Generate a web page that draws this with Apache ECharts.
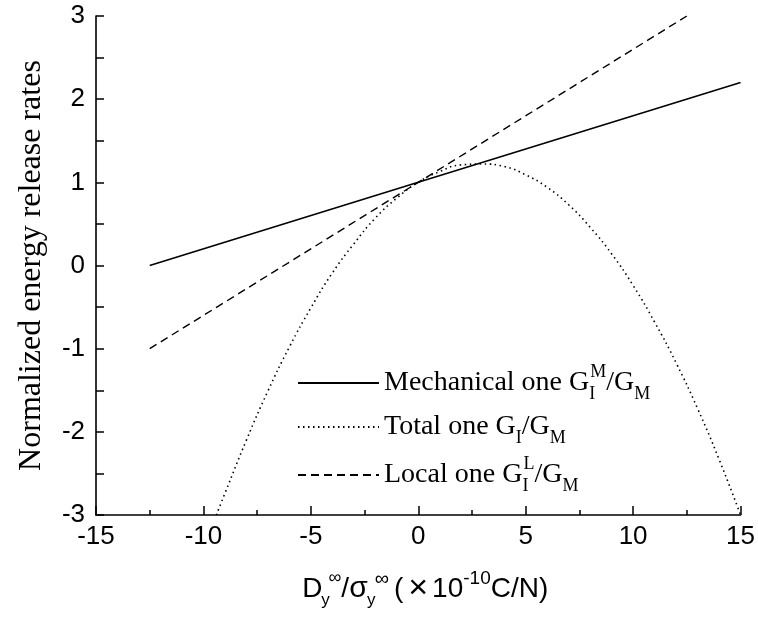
<!DOCTYPE html>
<html>
<head>
<meta charset="utf-8">
<script src="https://cdn.jsdelivr.net/npm/echarts@6/dist/echarts.min.js"></script>
<style>
html,body{margin:0;padding:0;background:#fff;}
#chart{width:758px;height:618px;}
</style>
</head>
<body>
<div id="chart"></div>
<script>
// ---- data ----
var xTicks = [-15, -10, -5, 0, 5, 10, 15];
var yTicks = [-3, -2, -1, 0, 1, 2, 3];

var mechX = [-12.5, 0, 15];
var mechY = [0, 1, 2.2];

var localX = [-12.5, 0, 12.5];
var localY = [-1, 1, 3];

var totalX = [-9.4, -9, -8, -7, -6, -5, -4, -3, -2, -1, 0, 1, 2, 3, 4, 5, 6, 7, 8, 9, 10, 11, 12, 13, 14, 15];
var totalY = [-3.0, -2.74, -2.10, -1.51, -0.98, -0.51, -0.09, 0.26, 0.57, 0.81, 1.0, 1.13, 1.21, 1.22, 1.19, 1.09, 0.94, 0.73, 0.46, 0.14, -0.24, -0.68, -1.17, -1.72, -2.33, -3.0];

var seriesNames = ['Mechanical one', 'Total one', 'Local one'];

function pairs(xs, ys) { return xs.map(function (x, i) { return [x, ys[i]]; }); }

var serif = "'Liberation Serif', 'Times New Roman', serif";
var sans = "'Liberation Sans', Arial, sans-serif";

var legendRich = {
  m: { fontFamily: serif, fontSize: 28, lineHeight: 40, color: '#000' },
  sp: { fontFamily: serif, fontSize: 18, lineHeight: 28, verticalAlign: 'top', color: '#000' },
  sbs: { fontFamily: serif, fontSize: 18, lineHeight: 22, verticalAlign: 'bottom', width: 1, color: '#000' },
  sb: { fontFamily: serif, fontSize: 18, lineHeight: 22, verticalAlign: 'bottom', color: '#000' },
  sb2: { fontFamily: serif, fontSize: 18, lineHeight: 18, verticalAlign: 'bottom', color: '#000' }
};
var legendText = {
  'Mechanical one': '{m|Mechanical one G}{sbs|I}{sp|M}{m|/G}{sb2|M}',
  'Total one': '{m|Total one G}{sb|I}{m|/G}{sb2|M}',
  'Local one': '{m|Local one G}{sbs|I}{sp|L}{m|/G}{sb2|M}'
};
var legendTops = [363, 413, 455];

var chart = echarts.init(document.getElementById('chart'), null, { renderer: 'canvas' });

var option = {
  backgroundColor: '#fff',
  animation: false,
  grid: { left: 96, right: 15, top: 16, bottom: 103, containLabel: false },
  legend: seriesNames.map(function (n, i) {
    return {
      data: [n],
      orient: 'vertical',
      left: 297,
      top: legendTops[i],
      itemWidth: 81,
      itemHeight: 2,
      padding: 0,
      selectedMode: false,
      itemStyle: { opacity: 0 },
      formatter: function (name) { return legendText[name]; },
      textStyle: { rich: legendRich, color: '#000' }
    };
  }),
  xAxis: {
    type: 'value',
    min: -15, max: 15, interval: 5,
    name: '{a|D}{ys|y}{inf|∞}{a|/}{sg|σ}{ys2|y}{inf2|∞}{a|(}{x|×}{a|10}{c|-10}{a|C/N)}',
    nameLocation: 'middle',
    nameGap: 54,
    nameTextStyle: {
      padding: [0, 0, 0, 14],
      rich: {
        a: { fontFamily: sans, fontSize: 28, lineHeight: 40, color: '#000' },
        sg: { fontFamily: sans, fontSize: 30, lineHeight: 40, color: '#000' },
        x: { fontFamily: sans, fontSize: 34, lineHeight: 40, padding: [0, 4, 0, 5], color: '#000' },
        c: { fontFamily: sans, fontSize: 19, lineHeight: 22, verticalAlign: 'top', color: '#000' },
        inf: { fontFamily: sans, fontSize: 18, lineHeight: 22, verticalAlign: 'top', color: '#000' },
        inf2: { fontFamily: sans, fontSize: 20, lineHeight: 22, verticalAlign: 'top', padding: [0, 5, 0, 0], color: '#000' },
        ys: { fontFamily: sans, fontSize: 17, lineHeight: 20, verticalAlign: 'bottom', width: 6, color: '#000' },
        ys2: { fontFamily: sans, fontSize: 17, lineHeight: 20, verticalAlign: 'bottom', width: 7, color: '#000' }
      }
    },
    axisLine: { show: true, onZero: false, lineStyle: { color: '#000', width: 1.6 } },
    axisTick: { show: true, inside: true, length: 9, lineStyle: { color: '#000', width: 1.5 } },
    minorTick: { show: true, splitNumber: 2, length: 5, lineStyle: { color: '#000', width: 1.5 } },
    splitLine: { show: false },
    axisLabel: {
      margin: 9, color: '#000', fontFamily: sans, fontSize: 26,
      formatter: function (v) { return xTicks.indexOf(v) >= 0 ? String(v) : ''; }
    }
  },
  yAxis: {
    type: 'value',
    min: -3, max: 3, interval: 1,
    name: 'Normalized energy release rates',
    nameLocation: 'middle',
    nameGap: 48,
    nameTextStyle: { fontFamily: serif, fontSize: 32, color: '#000' },
    axisLine: { show: true, onZero: false, lineStyle: { color: '#000', width: 1.6 } },
    axisTick: { show: true, inside: true, length: 8, lineStyle: { color: '#000', width: 1.5 } },
    minorTick: { show: true, splitNumber: 2, length: 8, lineStyle: { color: '#000', width: 1.5 } },
    splitLine: { show: false },
    axisLabel: {
      margin: 11, color: '#000', fontFamily: sans, fontSize: 26,
      formatter: function (v) { return yTicks.indexOf(v) >= 0 ? String(v) : ''; }
    }
  },
  series: [
    {
      name: seriesNames[0], type: 'line', data: pairs(mechX, mechY),
      showSymbol: false, symbol: 'none', color: '#000',
      lineStyle: { color: '#000', width: 1.6, type: 'solid' }
    },
    {
      name: seriesNames[1], type: 'line', data: pairs(totalX, totalY), smooth: true,
      showSymbol: false, symbol: 'none', color: '#000',
      lineStyle: { color: '#000', width: 1.6, type: [1.5, 3.5] }
    },
    {
      name: seriesNames[2], type: 'line', data: pairs(localX, localY),
      showSymbol: false, symbol: 'none', color: '#000',
      lineStyle: { color: '#000', width: 1.4, type: [8, 5] }
    }
  ]
};
chart.setOption(option);
</script>
</body>
</html>
